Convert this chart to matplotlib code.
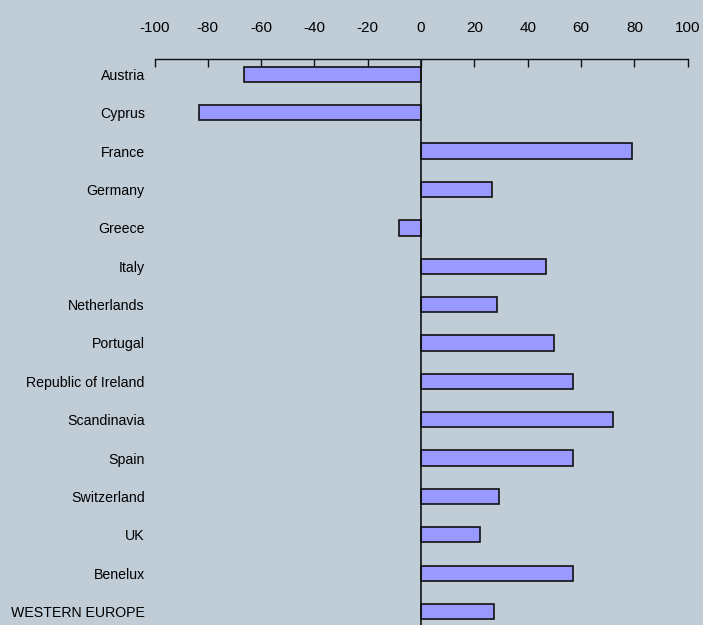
import matplotlib
matplotlib.use('Agg')
import matplotlib.pyplot as plt
import numpy as np

plt.rcParams['font.family'] = ['Liberation Sans', 'DejaVu Sans']

# 数据
countries = ['Austria', 'Cyprus', 'France', 'Germany', 'Greece', 'Italy',
             'Netherlands', 'Portugal', 'Republic of Ireland', 'Scandinavia',
             'Spain', 'Switzerland', 'UK', 'Benelux', 'WESTERN EUROPE']
values = [-66.4, -83.2, 79.2, 26.7, -8.2, 46.7, 28.3, 49.9, 57.1, 72.1,
          57.1, 29.4, 22.1, 57.0, 27.3]
xticks = [-100, -80, -60, -40, -20, 0, 20, 40, 60, 80, 100]

bg = '#C0CCD6'
fig = plt.figure(figsize=(7.03, 6.25), dpi=100, facecolor=bg)
ax = fig.add_axes([154.5 / 703, 0.0, (687.7 - 154.5) / 703, (625 - 59) / 625])
ax.set_facecolor(bg)

y = np.arange(len(countries))
ax.barh(y, values, height=0.4, color='#9999FF', edgecolor='#111111', linewidth=1.2, zorder=2)
ax.axvline(0, color='#111111', lw=1.2, zorder=3)

ax.set_xlim(-100, 100)
ax.set_ylim(len(countries) - 1 + 0.35, -0.4)

# 顶部坐标轴
for s in ['left', 'right', 'bottom']:
    ax.spines[s].set_visible(False)
ax.spines['top'].set_color('#111111')
ax.spines['top'].set_linewidth(1.0)
ax.xaxis.tick_top()
ax.set_xticks(xticks)
ax.set_xticklabels([str(t) for t in xticks], fontsize=11)
ax.tick_params(axis='x', direction='in', length=6, width=1, color='#111111', pad=17)

ax.set_yticks(y)
ax.set_yticklabels(countries, fontsize=10.2)
ax.tick_params(axis='y', length=0, pad=7)

fig.savefig('out.png', dpi=100, facecolor=bg)
